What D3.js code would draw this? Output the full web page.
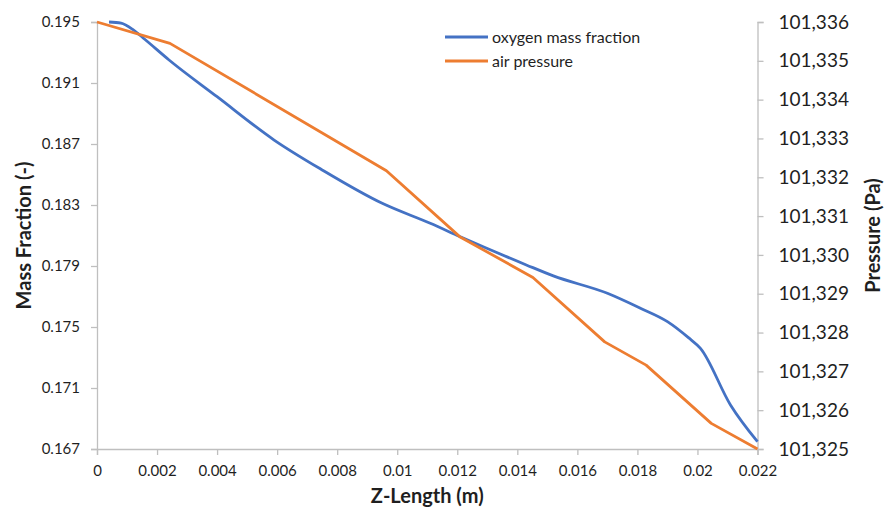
<!DOCTYPE html>
<html>
<head>
<meta charset="utf-8">
<script src="https://cdn.jsdelivr.net/npm/d3@7"></script>
<style>
  html, body { margin: 0; padding: 0; background: #fff; }
  svg { display: block; font-family: Lato, "Liberation Sans", sans-serif; }
</style>
</head>
<body>
<svg id="chart" width="884" height="515"></svg>
<script>
// ---- data ----
const zLengthO2 = [0.0004, 0.0008, 0.0012, 0.0016, 0.0024, 0.0040, 0.0059, 0.0075, 0.0095, 0.0111, 0.0121, 0.0143, 0.0152, 0.0170, 0.0181, 0.0190, 0.0197, 0.0201, 0.0211, 0.0220];
const o2Fraction = [0.19500, 0.19492, 0.19450, 0.19385, 0.19251, 0.19010, 0.18726, 0.18530, 0.18311, 0.18180, 0.18092, 0.17907, 0.17835, 0.17721, 0.17623, 0.17535, 0.17430, 0.17360, 0.16989, 0.16748];

const zLengthP = [0, 0.00243, 0.00964, 0.01208, 0.01452, 0.01691, 0.01829, 0.02046, 0.0220];
const pressure = [101336.0, 101335.45, 101332.17, 101330.47, 101329.42, 101327.76, 101327.16, 101325.66, 101325.0];

const xTicks = [0, 0.002, 0.004, 0.006, 0.008, 0.01, 0.012, 0.014, 0.016, 0.018, 0.02, 0.022];
const leftTicks = [0.195, 0.191, 0.187, 0.183, 0.179, 0.175, 0.171, 0.167];
const rightTicks = [101325, 101326, 101327, 101328, 101329, 101330, 101331, 101332, 101333, 101334, 101335, 101336];

const seriesNames = ["oxygen mass fraction", "air pressure"];
const seriesColors = ["#4472C4", "#ED7D31"];

// ---- layout ----
const W = 884, H = 515;
const m = { left: 97, right: 126.5, top: 22, bottom: 66 };
const svg = d3.select("#chart");

const x = d3.scaleLinear().domain([0, 0.022]).range([m.left, W - m.right]);
const yL = d3.scaleLinear().domain([0.167, 0.195]).range([H - m.bottom, m.top]);
const yR = d3.scaleLinear().domain([101325, 101336]).range([H - m.bottom, m.top]);

const axisColor = "#bfbfbf";
const textColor = "#1f1f1f";

function styleAxis(g, size) {
  g.selectAll("path.domain").attr("stroke", axisColor).attr("stroke-width", 1.3);
  g.selectAll(".tick line").attr("stroke", axisColor).attr("stroke-width", 1.3);
  g.selectAll(".tick text").attr("fill", textColor).style("font-size", size + "px")
    .style("font-family", "Lato, 'Liberation Sans', sans-serif");
}

// bottom axis
const gx = svg.append("g").attr("transform", `translate(0,${H - m.bottom})`)
  .call(d3.axisBottom(x).tickValues(xTicks).tickFormat(d3.format("~g")).tickSizeOuter(0).tickSize(6).tickPadding(10));
styleAxis(gx, 15);

// left axis
const gl = svg.append("g").attr("transform", `translate(${m.left},0)`)
  .call(d3.axisLeft(yL).tickValues(leftTicks).tickFormat(d3.format(".3f")).tickSizeOuter(0).tickSize(6).tickPadding(11));
styleAxis(gl, 15);

// right axis
const gr = svg.append("g").attr("transform", `translate(${W - m.right},0)`)
  .call(d3.axisRight(yR).tickValues(rightTicks).tickFormat(d3.format(",")).tickSizeOuter(0).tickSize(6).tickPadding(15));
styleAxis(gr, 19);

// lines
const o2Data = zLengthO2.map((z, i) => [z, o2Fraction[i]]);
const pData = zLengthP.map((z, i) => [z, pressure[i]]);

svg.append("path").datum(o2Data)
  .attr("fill", "none").attr("stroke", seriesColors[0]).attr("stroke-width", 2.8)
  .attr("stroke-linejoin", "round")
  .attr("d", d3.line().x(d => x(d[0])).y(d => yL(d[1])).curve(d3.curveMonotoneX));

svg.append("path").datum(pData)
  .attr("fill", "none").attr("stroke", seriesColors[1]).attr("stroke-width", 2.8)
  .attr("stroke-linejoin", "round")
  .attr("d", d3.line().x(d => x(d[0])).y(d => yR(d[1])));

// axis titles
svg.append("text").attr("x", (m.left + W - m.right) / 2).attr("y", 503)
  .attr("text-anchor", "middle").attr("fill", textColor)
  .style("font-size", "20px").style("font-weight", "bold").text("Z-Length (m)");

svg.append("text").attr("transform", `translate(31,${(m.top + H - m.bottom) / 2}) rotate(-90)`)
  .attr("text-anchor", "middle").attr("fill", textColor)
  .style("font-size", "20px").style("font-weight", "bold").text("Mass Fraction (-)");

svg.append("text").attr("transform", `translate(880,${(m.top + H - m.bottom) / 2}) rotate(-90)`)
  .attr("text-anchor", "middle").attr("fill", textColor)
  .style("font-size", "20px").style("font-weight", "bold").text("Pressure (Pa)");

// legend
const legend = svg.append("g");
seriesNames.forEach((name, i) => {
  const yy = 37 + i * 24;
  legend.append("line").attr("x1", 445).attr("x2", 488).attr("y1", yy).attr("y2", yy)
    .attr("stroke", seriesColors[i]).attr("stroke-width", 2.8);
  legend.append("text").attr("x", 492).attr("y", yy).attr("dy", "0.35em")
    .attr("fill", textColor).style("font-size", "16px").text(name);
});
</script>
</body>
</html>
